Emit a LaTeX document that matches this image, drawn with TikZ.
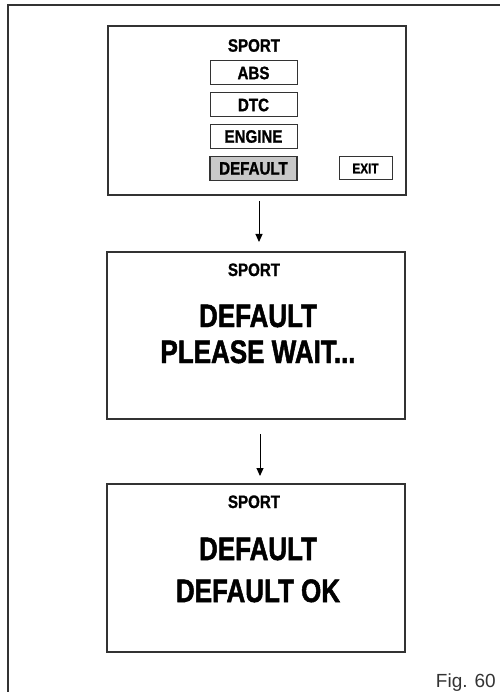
\documentclass[tikz,border=0pt]{standalone}
\usepackage{fontspec}
\setmainfont{Liberation Sans}
\newfontfamily\cond[FakeStretch=0.84,FakeBold=1.2]{Liberation Sans Bold}
\newfontfamily\condb[FakeStretch=0.80,FakeBold=1.5]{Liberation Sans Bold}
\usetikzlibrary{arrows.meta}
\definecolor{frame}{HTML}{333333}
\definecolor{selgrey}{HTML}{C8C8C8}
\begin{document}
\begin{tikzpicture}[x=1pt,y=-1pt,
  screen/.style={draw=frame,line width=2pt,minimum width=298pt,inner sep=0pt},
  btn/.style={draw=frame,line width=1pt,minimum width=87pt,minimum height=24pt,inner sep=0pt,font=\cond\fontsize{18}{18}\selectfont},
  title/.style={anchor=base,inner sep=0pt,font=\cond\fontsize{18}{18}\selectfont},
  big/.style={anchor=base,inner sep=0pt,font=\condb\fontsize{32.5}{32.5}\selectfont},
  flow/.style={line width=1pt,-{Triangle[width=7pt,length=8pt]}}]
\useasboundingbox (0,0) rectangle (500,692);
% outer frame
\draw[frame,line width=2pt] (8,692) -- (8,5.5) -- (500,5.5);
% screen 1
\node[screen,minimum height=169pt] (s1) at (256.5,110.5) {};
\node[title] (t1) at (254,51.7) {SPORT};
\node[btn] (abs) at (253.5,73) {ABS};
\node[btn] (dtc) at (253.5,105) {DTC};
\node[btn] (eng) at (253.5,136.5) {ENGINE};
\node[btn,fill=selgrey,line width=1.8pt] (def) at (253.5,168.5) {DEFAULT};
\node[btn,minimum width=53pt,minimum height=23pt,font=\cond\fontsize{14}{14}\selectfont] (exit) at (365.5,168.5) {EXIT};
% screen 2
\node[screen,minimum height=167pt] (s2) at (256,335.5) {};
\node[title] (t2) at (254,276) {SPORT};
\node[big] (d2) at (258,327) {DEFAULT};
\node[big] (w2) at (258,363) {PLEASE WAIT...};
% screen 3
\node[screen,minimum height=168pt] (s3) at (256,568) {};
\node[title] (t3) at (254,508) {SPORT};
\node[big] (d3) at (258,560) {DEFAULT};
\node[big] (o3) at (258,602) {DEFAULT OK};
% arrows
\draw[flow,shorten <=5pt,shorten >=9pt] (s1.south -| 259,0) -- (s2.north -| 259,0);
\draw[flow,shorten <=14pt,shorten >=7pt] (s2.south -| 260,0) -- (s3.north -| 260,0);
% figure label
\node[anchor=base east,inner sep=0pt,text=frame,font=\fontsize{19}{19}\selectfont] (fig) at (496,687) {Fig. 60};
\end{tikzpicture}
\end{document}
